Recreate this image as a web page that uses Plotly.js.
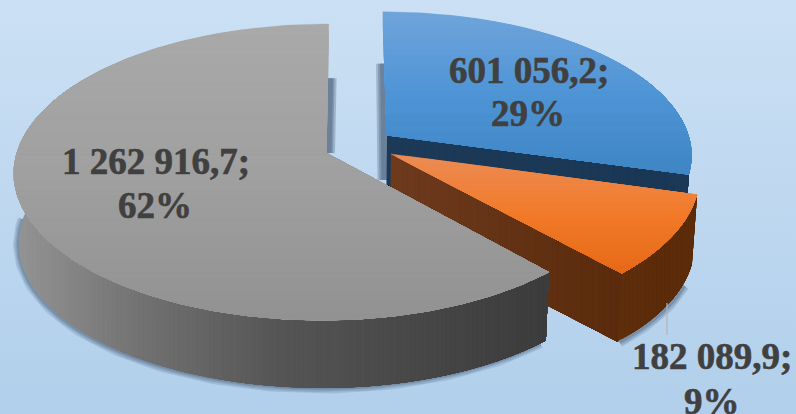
<!DOCTYPE html>
<html><head><meta charset="utf-8">
<script src="https://cdn.plot.ly/plotly-3.0.1.min.js"></script>
<style>html,body{margin:0;padding:0;width:796px;height:414px;overflow:hidden;background:linear-gradient(180deg,#cbe0f4 0%,#b1cfeb 100%)}#c{width:796px;height:414px}
.annotation-text{stroke:#404040;stroke-width:0.6px}</style>
</head><body><div id="c"></div><script>
// Data
const seriesValues = [601056.2, 182089.9, 1262916.7];
const valueLabels = ['601 056,2;', '182 089,9;', '1 262 916,7;'];
const percentLabels = ['29%', '9%', '62%'];

// Drawing set-up (pie geometry in pixel-based axes)
const PERSP = 0.128, VC = 350, THICK = 70, BOTTOM_SCALE = 0.985;
const look = [
 {ax:387, ay:135, AL:305, A:301, B:139, top:['#6fa4da','#4f95d6','#3f86c5'], wall:['#1b3a57','#1b3a57'], cut:['#1c3a58','#1a3855'], wallFrom:60, lx:529, ly:[70,113], px:528},
 {ax:391, ay:154, AL:309, A:305, B:145.6, top:['#ec8c55','#f27b2a','#e76a18'], wall:['#5f2e0d','#5b2b0a','#5d2c0a'], cut:['#6e3a1e','#5a2b0c'], wallFrom:null, lx:712, ly:[356,401], px:712},
 {ax:326, ay:153, AL:309, A:303, B:145.6, top:['#a9a9a9','#a0a0a0','#929292'], wall:['#949494','#707070','#555555','#484848','#3c3c3c'], cut:null, wallFrom:null, wallTo:300, lx:156, ly:[161,205], px:155}
];
const total = seriesValues.reduce((a,b)=>a+b,0);
let acc = 0;
const angles = seriesValues.map(v=>{const s=acc; acc+=v/total*360; return [s,acc];});
const rad = d=>d*Math.PI/180;
function pt(L,deg,r,bottom){
  const X=r*Math.sin(rad(deg)),Y=r*Math.cos(rad(deg)),w=1+PERSP*Y,s=bottom?BOTTOM_SCALE:1;
  return [VC+((L.ax-VC)+(X<0?L.AL:L.A)*X)*s/w, L.ay+(bottom?THICK:0)-L.B*Y*s/w];
}
function arc(L,a,b,bottom){const out=[],n=Math.max(8,Math.ceil(Math.abs(b-a)));for(let i=0;i<=n;i++)out.push(pt(L,a+(b-a)*i/n,1,bottom));return out;}
function clip(poly,axis,v){ // keep the part with coord >= v
  const out=[];for(let i=0;i<poly.length;i++){const p=poly[i],q=poly[(i+1)%poly.length],a=p[axis]>=v,b=q[axis]>=v;
    if(a)out.push(p);
    if(a!==b){const t=(v-p[axis])/(q[axis]-p[axis]);out.push([p[0]+(q[0]-p[0])*t,p[1]+(q[1]-p[1])*t]);}}
  return out;
}
function hex(c){return [1,3,5].map(i=>parseInt(c.substr(i,2),16));}
function mix(stops,t){const f=t*(stops.length-1),i=Math.min(Math.floor(f),stops.length-2),u=f-i;
  const a=hex(stops[i]),b=hex(stops[i+1]);return 'rgb('+a.map((x,k)=>Math.round(x+(b[k]-x)*u)).join(',')+')';}
const traces=[];
function fillPoly(poly,color){if(poly.length<3)return;traces.push({type:'scatter',mode:'lines',x:poly.map(p=>p[0]).concat(poly[0][0]),y:poly.map(p=>p[1]).concat(poly[0][1]),fill:'toself',fillcolor:color,line:{width:0.3,color:color},hoverinfo:'skip',showlegend:false});}
function gradient(poly,axis,stops,n){
  const vals=poly.map(p=>p[axis]),lo=Math.min(...vals),hi=Math.max(...vals);
  for(let i=0;i<n;i++){fillPoly(i?clip(poly,axis,lo+(hi-lo)*i/n):poly,mix(stops,i/(n-1)));}
}
function glow(pts,color,widths,alpha){widths.forEach(w=>traces.push({type:'scatter',mode:'lines',x:pts.map(p=>p[0]),y:pts.map(p=>p[1]),line:{width:w,color:'rgba('+color+','+alpha+')'},hoverinfo:'skip',showlegend:false}));}
const SH='45,65,90';
// soft shadows under everything
{
 const g=look[2],o=look[1],[ga,gb]=angles[2],[oa,ob]=angles[1];
 glow(arc(g,ga+1,272,true).map(p=>[p[0]-1,p[1]+1]),SH,[10,7,4,2],0.14);
 glow(arc(o,oa+8,ob,true).map(p=>[p[0]+2,p[1]+1]),SH,[10,7,4,2],0.14);
 const gs=pt(g,0,0.55,false);
 glow([[gs[0]+3,gs[1]],[g.ax+3,g.ay]],SH,[12,8,5],0.25);
 const b=look[0],bs=pt(b,0,0.55,false);
 glow([[bs[0]-2,bs[1]],[b.ax-3,b.ay+45]],SH,[13,9,5],0.25);
}
look.forEach((L,i)=>{
  const [a,b]=angles[i];
  const from=L.wallFrom===null?a:L.wallFrom, to=L.wallTo||b;
  const wallPoly=arc(L,from,to,false).concat(arc(L,from,to,true).reverse());
  if(i<2){
    const cut=[pt(L,b,0,false),pt(L,b,1,false),pt(L,b,1,true),pt(L,b,0,true)];
    gradient(cut,0,L.cut,40);
  }
  gradient(wallPoly,0,L.wall,i===2?120:20);
  const top=[pt(L,a,0,false)].concat(arc(L,a,b,false));
  gradient(top,1,L.top,50);
});
// leader line of the small slice
const LEADER=[[667,303],[667,335]];
traces.push({type:'scatter',mode:'lines',x:LEADER.map(p=>p[0]),y:LEADER.map(p=>p[1]),line:{width:1.2,color:'#b4b4b4'},hoverinfo:'skip',showlegend:false});
const annotations=[];
look.forEach((L,i)=>{
  [[valueLabels[i],L.lx,L.ly[0]],[percentLabels[i],L.px,L.ly[1]]].forEach(([t,x,y])=>annotations.push({x,y,xref:'x',yref:'y',xanchor:'center',yanchor:'middle',showarrow:false,align:'center',text:t,
    font:{family:'"Liberation Serif",serif',size:37,color:'#404040',weight:700}}));
});
Plotly.newPlot('c',traces,{width:796,height:414,margin:{l:0,r:0,t:0,b:0},paper_bgcolor:'rgba(0,0,0,0)',plot_bgcolor:'rgba(0,0,0,0)',showlegend:false,
  xaxis:{range:[0,796],visible:false,fixedrange:true},yaxis:{range:[414,0],visible:false,fixedrange:true},annotations},{staticPlot:true,displayModeBar:false});
</script></body></html>
